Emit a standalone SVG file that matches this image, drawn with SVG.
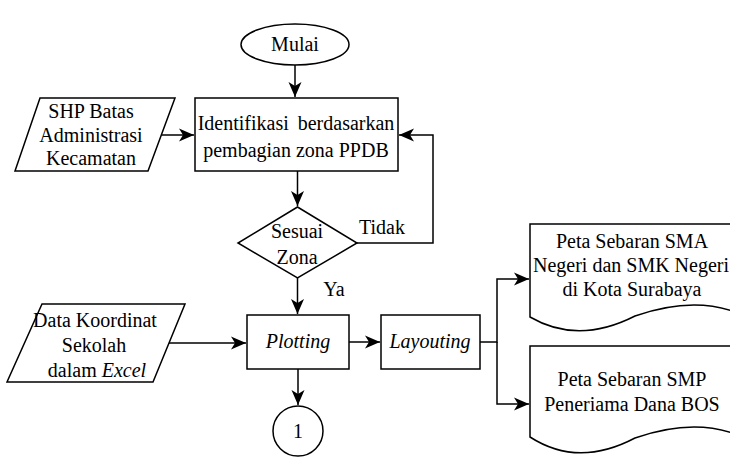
<svg xmlns="http://www.w3.org/2000/svg" width="730" height="457" viewBox="0 0 730 457" font-family="'Liberation Serif', serif" font-size="20" text-anchor="middle">
<defs>
<marker id="ah" markerUnits="userSpaceOnUse" markerWidth="18" markerHeight="16" viewBox="-16 -8 18 16" refX="0" refY="0" orient="auto">
<path d="M0,0 L-15,-6.5 L-11,0 L-15,6.5 Z" fill="#000"/>
</marker>
</defs>
<style>
.s{fill:#fff;stroke:#000;stroke-width:1.5}
.c{fill:none;stroke:#000;stroke-width:1.5}
.t{font-family:'Liberation Serif',serif;font-size:20px;fill:#000;text-anchor:middle}
.i{font-style:italic}
</style>
<rect width="730" height="457" fill="#fff"/>
<g id="connectors">
<path class="c" d="M295,65 V97" marker-end="url(#ah)"/>
<path class="c" d="M161.5,135 H194" marker-end="url(#ah)"/>
<path class="c" d="M297.5,171 V206" marker-end="url(#ah)"/>
<path class="c" d="M357,243 H433 V135 H399" marker-end="url(#ah)"/>
<path class="c" d="M297.5,278 V314" marker-end="url(#ah)"/>
<path class="c" d="M169,343 H246" marker-end="url(#ah)"/>
<path class="c" d="M298,369 V405" marker-end="url(#ah)"/>
<path class="c" d="M349,342 H380" marker-end="url(#ah)"/>
<path class="c" d="M480,342 H497 V279 H529" marker-end="url(#ah)"/>
<path class="c" d="M497,342 V404 H529" marker-end="url(#ah)"/>
<text class="t" x="382" y="234">Tidak</text>
<text class="t" x="334" y="296">Ya</text>
</g>
<g id="mulai">
<ellipse class="s" cx="295" cy="44.5" rx="54" ry="20.5"/>
<text class="t" x="295" y="51">Mulai</text>
</g>
<g id="shp">
<polygon class="s" points="40,98 175,98 148,171 15,171"/>
<text class="t" x="91" y="118">SHP Batas</text>
<text class="t" x="91" y="142">Administrasi</text>
<text class="t" x="91" y="165">Kecamatan</text>
</g>
<g id="identifikasi">
<rect class="s" x="195" y="98" width="203" height="73"/>
<text class="t" x="296" y="130" word-spacing="4">Identifikasi berdasarkan</text>
<text class="t" x="296" y="157">pembagian zona PPDB</text>
</g>
<g id="sesuai">
<polygon class="s" points="297.5,207 357,243 297.5,278 238,243"/>
<text class="t" x="297" y="238">Sesuai</text>
<text class="t" x="297" y="264">Zona</text>
</g>
<g id="data">
<polygon class="s" points="42,304 185,304 153,382 7,382"/>
<text class="t" x="95" y="327">Data Koordinat</text>
<text class="t" x="94" y="352">Sekolah</text>
<text class="t" x="97" y="377">dalam <tspan class="i">Excel</tspan></text>
</g>
<g id="plotting">
<rect class="s" x="247" y="315" width="102" height="54"/>
<text class="t i" x="298" y="348">Plotting</text>
</g>
<g id="circle1">
<circle class="s" cx="298" cy="431" r="25"/>
<text class="t" x="298" y="438">1</text>
</g>
<g id="layouting">
<rect class="s" x="381" y="315" width="99" height="54"/>
<text class="t i" x="430" y="348">Layouting</text>
</g>
<g id="doc1">
<path class="s" d="M530,224 H745 V316 Q698,294 635,316 Q578,345 530,317 Z"/>
<text class="t" x="632" y="248">Peta Sebaran SMA</text>
<text class="t" x="631" y="272">Negeri dan SMK Negeri</text>
<text class="t" x="632" y="296">di Kota Surabaya</text>
</g>
<g id="doc2">
<path class="s" d="M530,346 H745 V438 Q698,416 635,438 Q578,468 530,437 Z"/>
<text class="t" x="632" y="386">Peta Sebaran SMP</text>
<text class="t" x="632" y="411">Peneriama Dana BOS</text>
</g>
</svg>
